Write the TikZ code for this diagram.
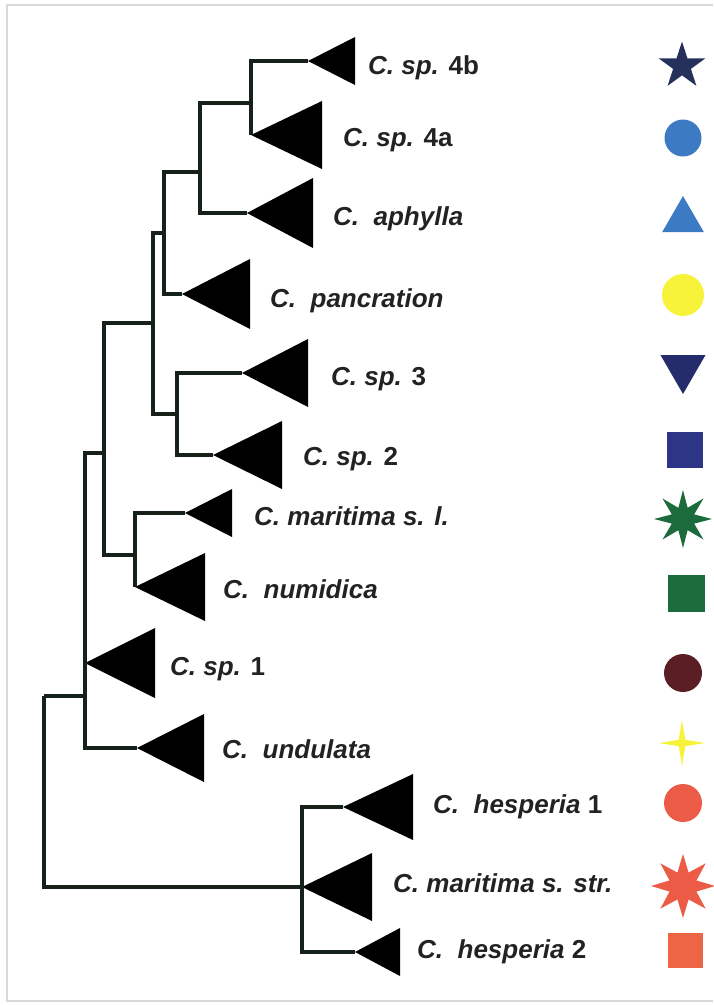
\documentclass[tikz,border=0pt]{standalone}
\usepackage{fontspec}
\setmainfont{Liberation Sans}
\usepackage{tikz}
\usetikzlibrary{shapes.geometric,positioning}
\definecolor{treeink}{HTML}{152119}
\definecolor{labelink}{HTML}{222222}
\definecolor{framegray}{HTML}{D9D9D9}
\definecolor{navystar}{HTML}{25315A}
\definecolor{midblue}{HTML}{3C7AC4}
\definecolor{paleyellow}{HTML}{F7F33A}
\definecolor{darkindigo}{HTML}{252C6C}
\definecolor{indigo}{HTML}{2D3587}
\definecolor{leafgreen}{HTML}{1B6B3D}
\definecolor{maroon}{HTML}{5B1E24}
\definecolor{coral}{HTML}{EC5B45}
\definecolor{coralsq}{HTML}{EC6645}
\tikzset{%
	branch/.style   = {draw=treeink, line width=3.2, line join=miter},
	cladefill/.style= {fill=black},
	taxon/.style    = {anchor=base west, inner sep=0, text=labelink, font=\bfseries\fontsize{26}{30}\selectfont},
	sym/.style      = {inner sep=0, outer sep=0, draw=none},
	frameline/.style= {draw=framegray, line width=1.6},
}
\newcommand{\clade}[4]{%
	\coordinate (#1) at (#2);
	\fill[cladefill] (#1) -- ++(#3,-#4) -- ++(0,2*#4) -- cycle;
}

\begin{document}
\begin{tikzpicture}[x=1pt,y=-1pt]
	\useasboundingbox (0,0) rectangle (713,1005);
	\draw[frameline] (713,5) -- (7,5) -- (7,1001) -- (713,1001);
	
	\coordinate (root) at (44,696);
	\coordinate (nA) at (85,696);
	\coordinate (nB) at (302,887);
	\coordinate (nC) at (104,453);
	\coordinate (nD) at (153,323);
	\coordinate (nE) at (135,555);
	\coordinate (nF) at (164,233);
	\coordinate (nG) at (177,414);
	\coordinate (nH) at (200,172);
	\coordinate (nI) at (251,103);
	
	\clade{t4b}{308,61}{47}{24}
	\clade{t4a}{251,135}{71}{34}
	\clade{taph}{247,213}{66}{35}
	\clade{tpan}{182,294}{68}{35}
	\clade{tsp3}{242,373}{66}{34}
	\clade{tsp2}{213,455}{69}{34}
	\clade{tmsl}{185,513}{47}{24}
	\clade{tnum}{135,587}{70}{34}
	\clade{tsp1}{85,663}{70}{35}
	\clade{tund}{137,748}{67}{34}
	\clade{thes1}{343,807}{70}{33}
	\clade{tmss}{302,887}{70}{34}
	\clade{thes2}{355,952}{45}{24}
	
	\draw[branch] (root) |- (nA);
	\draw[branch] (root) |- (nB);
	\draw[branch] (nA) |- (nC);
	\draw[branch] (nA) |- (tsp1);
	\draw[branch] (nA) |- (tund);
	\draw[branch] (nC) |- (nD);
	\draw[branch] (nC) |- (nE);
	\draw[branch] (nE) |- (tmsl);
	\draw[branch] (nE) |- (tnum);
	\draw[branch] (nD) |- (nF);
	\draw[branch] (nD) |- (nG);
	\draw[branch] (nG) |- (tsp3);
	\draw[branch] (nG) |- (tsp2);
	\draw[branch] (nF) |- (nH);
	\draw[branch] (nF) |- (tpan);
	\draw[branch] (nH) |- (nI);
	\draw[branch] (nH) |- (taph);
	\draw[branch] (nI) |- (t4b);
	\draw[branch] (nI) |- (t4a);
	\draw[branch] (nB) |- (thes1);
	\draw[branch] (nB) |- (tmss);
	\draw[branch] (nB) |- (thes2);
	
	\node[taxon] (l4b) at (368,74) {\textit{C. sp.} 4b};
	\node[taxon] (l4a) at (343,146) {\textit{C. sp.} 4a};
	\node[taxon] (laph) at (333,225) {\textit{C.\ \ aphylla}};
	\node[taxon] (lpan) at (270,307) {\textit{C.\ \ pancration}};
	\node[taxon] (lsp3) at (331,385) {\textit{C. sp.} 3};
	\node[taxon] (lsp2) at (303,465) {\textit{C. sp.} 2};
	\node[taxon] (lmsl) at (254,525) {\textit{C. maritima s. l.}};
	\node[taxon] (lnum) at (223,598) {\textit{C.\ \ numidica}};
	\node[taxon] (lsp1) at (170,675) {\textit{C. sp.} 1};
	\node[taxon] (lund) at (222,758) {\textit{C.\ \ undulata}};
	\node[taxon] (lhes1) at (433,813) {\textit{C.\ \ hesperia} 1};
	\node[taxon] (lmss) at (393,892) {\textit{C. maritima s. str.}};
	\node[taxon] (lhes2) at (417,958) {\textit{C.\ \ hesperia} 2};
	
	\node[sym, star, star points=5, star point ratio=2.618, minimum size=49, fill=navystar] (s4b) at (682,66) {};
	\node[sym, circle, minimum size=37, fill=midblue] (s4a) at (683,138) {};
	\node[sym, regular polygon, regular polygon sides=3, minimum size=48, fill=midblue] (saph) at (683,220) {};
	\node[sym, circle, minimum size=42, fill=paleyellow] (span) at (683,295) {};
	\node[sym, regular polygon, regular polygon sides=3, shape border rotate=180, minimum size=52, fill=darkindigo] (ssp3) at (683,368) {};
	\node[sym, rectangle, minimum size=36, fill=indigo] (ssp2) at (685,450) {};
	\node[sym, star, star points=8, star point ratio=2.4, minimum size=58, fill=leafgreen] (smsl) at (683,519) {};
	\node[sym, rectangle, minimum size=37, fill=leafgreen] (snum) at (686,593) {};
	\node[sym, circle, minimum size=38, fill=maroon] (ssp1) at (683,673) {};
	\node[sym, star, star points=4, star point ratio=5, minimum size=46, fill=paleyellow] (sund) at (682,743) {};
	\node[sym, circle, minimum size=38, fill=coral] (shes1) at (683,803) {};
	\node[sym, star, star points=8, star point ratio=2.2, minimum size=64, fill=coral] (smss) at (683,886) {};
	\node[sym, rectangle, minimum size=35, fill=coralsq] (shes2) at (685,950) {};
\end{tikzpicture}
\end{document}
